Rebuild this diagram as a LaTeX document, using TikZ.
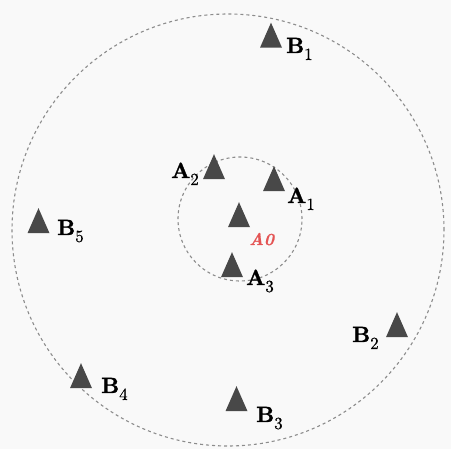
\documentclass[tikz,border=0pt]{standalone}
\usepackage{fontspec}
\usetikzlibrary{shapes.geometric}

\newfontfamily\stfam{lmroman10-bold.otf}[FakeBold=1.4]
\newfontfamily\idxfam{lmroman10-regular.otf}[FakeBold=0.4]
\newfontfamily\redfam{lmroman10-bolditalic.otf}[FakeBold=0.8]

\definecolor{bgcol}{RGB}{249,249,249}
\definecolor{tricol}{RGB}{72,72,72}
\definecolor{ringcol}{RGB}{140,140,140}
\definecolor{redlbl}{RGB}{228,84,84}

% station label: bold letter, dropped index
\newcommand{\stlbl}[2]{{\fontsize{22}{24}\selectfont\stfam #1}\raisebox{-7pt}{\fontsize{17}{18}\selectfont\idxfam #2}}

\tikzset{
  tri/.style={isosceles triangle, isosceles triangle stretches, shape border rotate=90,
    minimum height=25pt, minimum width=22pt, inner sep=0pt, fill=tricol, draw=none},
  ring/.style={ringcol, line width=1.1pt, dash pattern=on 3pt off 3pt},
  lbl/.style={anchor=base west, inner sep=0pt},
}

\begin{document}
\begin{tikzpicture}[x=1pt, y=-1pt]
  \fill[bgcol] (0,0) rectangle (451,449);
  \draw[ring] (228,230) circle (216pt);
  \draw[ring] (240,219) circle (62pt);

  % inner group
  \node[tri] (a0) at (239,220) {};
  \node[tri] (a1) at (274,184) {};
  \node[tri] (a2) at (214,172) {};
  \node[tri] (a3) at (232,270) {};
  \node[lbl, text=redlbl, font=\fontsize{17}{19}\selectfont\redfam] (a0l) at (249,245) {A0};
  \node[lbl] (a1l) at (287,203) {\stlbl{A}{1}};
  \node[lbl] (a2l) at (171,178) {\stlbl{A}{2}};
  \node[lbl] (a3l) at (246,285) {\stlbl{A}{3}};

  % outer group
  \node[tri] (b1) at (271,40.5) {};
  \node[tri] (b2) at (397,330) {};
  \node[tri] (b3) at (236.5,404) {};
  \node[tri] (b4) at (81,381) {};
  \node[tri] (b5) at (38.5,226) {};
  \node[lbl] (b1l) at (286,53) {\stlbl{B}{1}};
  \node[lbl] (b2l) at (352,342) {\stlbl{B}{2}};
  \node[lbl] (b3l) at (256,422) {\stlbl{B}{3}};
  \node[lbl] (b4l) at (101,393) {\stlbl{B}{4}};
  \node[lbl] (b5l) at (57,235) {\stlbl{B}{5}};
\end{tikzpicture}
\end{document}
